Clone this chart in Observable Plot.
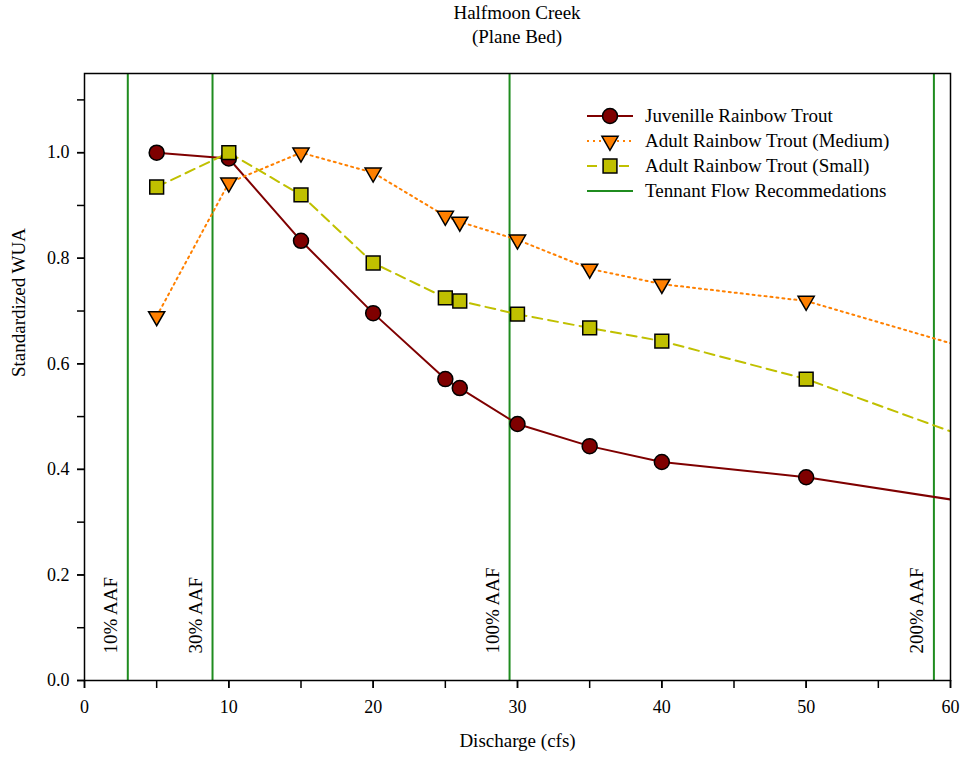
<!DOCTYPE html>
<html><head><meta charset="utf-8">
<script src="https://cdn.jsdelivr.net/npm/d3@7"></script>
<script src="https://cdn.jsdelivr.net/npm/@observablehq/plot@0.6"></script>
<style>
body{margin:0;background:#fff;font-family:"Liberation Serif","Times New Roman",serif;}
#wrap{position:relative;width:964px;height:761px;}
#title{position:absolute;left:84px;width:866px;top:1px;text-align:center;font-size:19px;line-height:24px;color:#000;}
#legend{position:absolute;left:0;top:0;}
</style></head>
<body>
<div id="wrap">
<div id="chart"></div>
<div id="title">Halfmoon Creek<br>(Plane Bed)</div>
<svg id="legend" width="964" height="761"></svg>
</div>
<script>
// ---- data ----
const discharge   = [5, 10, 15, 20, 25, 26, 30, 35, 40, 50, 60];
const juvenile    = [1.0, 0.989, 0.833, 0.696, 0.571, 0.554, 0.486, 0.444, 0.414, 0.385, 0.343];
const adultMedium = [0.69, 0.943, 1.0, 0.962, 0.88, 0.869, 0.835, 0.78, 0.751, 0.719, 0.639];
const adultSmall  = [0.935, 1.0, 0.92, 0.791, 0.725, 0.719, 0.694, 0.668, 0.643, 0.571, 0.472];
const markerMax   = 50; // markers drawn up to this discharge; lines continue to the edge

const tennantFlows  = [3.0, 8.87, 29.45, 58.85];
const tennantLabels = ["10% AAF", "30% AAF", "100% AAF", "200% AAF"];

const seriesNames = ["Juvenille Rainbow Trout", "Adult Rainbow Trout (Medium)", "Adult Rainbow Trout (Small)"];
const tennantName = "Tennant Flow Recommedations";
const xTicks = d3.range(0, 61, 5);
const xLabels = d3.range(0, 61, 10);
const yTicks = d3.range(0, 11.5, 1).map(d => d / 10);
const yLabels = [0, 0.2, 0.4, 0.6, 0.8, 1.0];

// ---- styles ----
const FONT = '"Liberation Serif","Times New Roman",serif';
const colors = {juv: "#7f0000", med: "#ff8000", small: "#c0c000", tennant: "#1f8c1f"};
const styles = [
  {fill: colors.juv, stroke: colors.juv, symbol: "circle", r: 7.5, rotate: 0, dash: null, sw: 2},
  {fill: colors.med, stroke: colors.med, symbol: "triangle", r: 6, rotate: 180, dash: "2,4", sw: 2},
  {fill: colors.small, stroke: colors.small, symbol: "square", r: 7.8, rotate: 0, dash: "10,6", sw: 2}
];

const values = [juvenile, adultMedium, adultSmall];
const tables = values.map(v => discharge.map((x, i) => ({x, y: v[i]})));
const tennant = tennantFlows.map((f, i) => ({flow: f, label: tennantLabels[i]}));

const marks = [];
// tennant rules
marks.push(Plot.ruleX(tennant, {x: "flow", stroke: colors.tennant, strokeWidth: 2}));
marks.push(Plot.text(tennant, {x: "flow", text: "label", frameAnchor: "bottom", rotate: -90, textAnchor: "start", dx: -11, dy: -27, fontSize: 19, fill: "#000"}));
// lines
tables.forEach((t, k) => {
  const s = styles[k];
  marks.push(Plot.line(t, {x: "x", y: "y", stroke: s.stroke, strokeWidth: s.sw, strokeDasharray: s.dash, clip: true}));
});
// markers
tables.forEach((t, k) => {
  const s = styles[k];
  marks.push(Plot.dot(t.filter(d => d.x <= markerMax), {x: "x", y: "y", symbol: s.symbol, r: s.r, rotate: s.rotate, fill: s.fill, stroke: "#000", strokeWidth: 1.5}));
});
// axes
marks.push(Plot.axisY({ticks: yTicks, tickFormat: () => "", tickSize: 7, strokeWidth: 1.5, label: null}));
marks.push(Plot.axisY({ticks: yLabels, tickFormat: d3.format(".1f"), tickSize: 7, tickPadding: 8, strokeWidth: 1.5, fontSize: 18, label: null}));
marks.push(Plot.axisX({ticks: xTicks, tickFormat: () => "", tickSize: 8, strokeWidth: 1.5, label: null}));
marks.push(Plot.axisX({ticks: xLabels, tickFormat: d => String(d), tickSize: 8, tickPadding: 12, strokeWidth: 1.5, fontSize: 18, label: null}));
marks.push(Plot.frame({stroke: "#000", strokeWidth: 1.5}));
marks.push(Plot.text(["Standardized WUA"], {frameAnchor: "left", rotate: -90, dx: -66, fontSize: 19, fill: "#000"}));
marks.push(Plot.text(["Discharge (cfs)"], {frameAnchor: "bottom", dy: 66, fontSize: 19, fill: "#000"}));

const chart = Plot.plot({
  width: 964, height: 761,
  marginTop: 73, marginBottom: 81, marginLeft: 84, marginRight: 14,
  x: {domain: [0, 60]},
  y: {domain: [0, 1.15]},
  style: {fontFamily: FONT, fontSize: "18px", color: "#000", background: "#fff"},
  marks
});
document.getElementById("chart").appendChild(chart);

// ---- legend (inside plot, top right) ----
const lg = d3.select("#legend");
const rowY = [116, 141, 166, 191];
const lx0 = 587, lx1 = 633, lmid = 610, ltx = 645;
styles.forEach((s, k) => {
  const g = lg.append("g");
  g.append("line").attr("x1", lx0).attr("x2", lx1).attr("y1", rowY[k]).attr("y2", rowY[k])
    .attr("stroke", s.stroke).attr("stroke-width", s.sw).attr("stroke-dasharray", s.dash);
  const sym = {circle: d3.symbolCircle, triangle: d3.symbolTriangle, square: d3.symbolSquare}[s.symbol];
  g.append("path").attr("d", d3.symbol(sym, Math.PI * s.r * s.r)())
    .attr("transform", `translate(${lmid},${rowY[k]}) rotate(${s.rotate})`)
    .attr("fill", s.fill).attr("stroke", "#000").attr("stroke-width", 1.5);
  g.append("text").attr("x", ltx).attr("y", rowY[k]).attr("dy", "0.32em")
    .attr("font-size", 19).attr("font-family", FONT).text(seriesNames[k]);
});
lg.append("line").attr("x1", lx0).attr("x2", lx1).attr("y1", rowY[3]).attr("y2", rowY[3])
  .attr("stroke", colors.tennant).attr("stroke-width", 2);
lg.append("text").attr("x", ltx).attr("y", rowY[3]).attr("dy", "0.32em")
  .attr("font-size", 19).attr("font-family", FONT).text(tennantName);
</script>
</body></html>
